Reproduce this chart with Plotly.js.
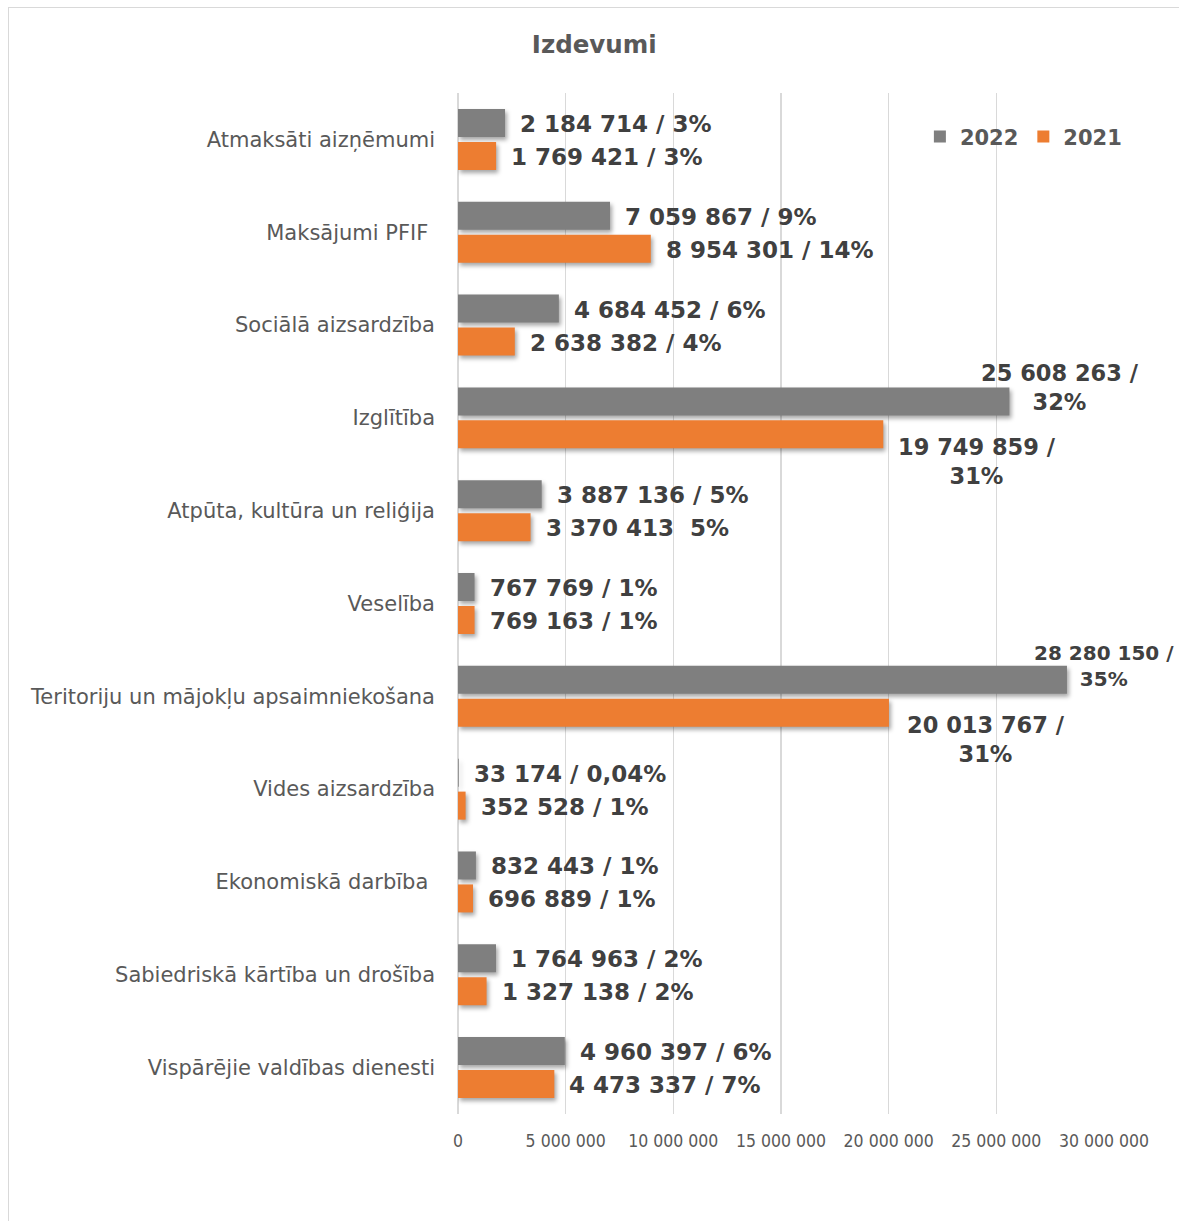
<!DOCTYPE html>
<html>
<head>
<meta charset="utf-8">
<script src="https://cdn.plot.ly/plotly-3.0.1.min.js"></script>
<style>
  html, body { margin: 0; padding: 0; background: #fff; overflow: hidden; }
  #frame { position: absolute; left: 8px; top: 7px; width: 1400px; height: 1400px;
           border: 1.5px solid #d9d9d9; pointer-events: none; }
  #chart { position: absolute; left: 0; top: 0; width: 1179px; height: 1221px; }
  #chart .bars .point path { filter: drop-shadow(2px 3px 2px rgba(0,0,0,0.35)); }
</style>
</head>
<body>
<div id="frame"></div>
<div id="chart"></div>
<script>
// ---- data (top to bottom as in the chart) ----
const categories = [
  "Atmaksāti aizņēmumi",
  "Maksājumi PFIF\u00a0",
  "Sociālā aizsardzība",
  "Izglītība",
  "Atpūta, kultūra un reliģija",
  "Veselība",
  "Teritoriju un mājokļu apsaimniekošana",
  "Vides aizsardzība",
  "Ekonomiskā darbība\u00a0",
  "Sabiedriskā kārtība un drošība",
  "Vispārējie valdības dienesti"
];
const values2022 = [2184714, 7059867, 4684452, 25608263, 3887136, 767769, 28280150, 33174, 832443, 1764963, 4960397];
const values2021 = [1769421, 8954301, 2638382, 19749859, 3370413, 769163, 20013767, 352528, 696889, 1327138, 4473337];
const pct2022 = ["3%", "9%", "6%", "32%", "5%", "1%", "35%", "0,04%", "1%", "2%", "6%"];
const pct2021 = ["3%", "14%", "4%", "31%", "5%", "1%", "31%", "1%", "1%", "2%", "7%"];
const sep2022 = [" / ", " / ", " / ", " /<br>", " / ", " / ", " /<br>", " / ", " / ", " / ", " / "];
const sep2021 = [" / ", " / ", " / ", " /<br>", "\u00a0 ", " / ", " /<br>", " / ", " / ", " / ", " / "];
const xTickVals = [0, 5000000, 10000000, 15000000, 20000000, 25000000, 30000000];

// ---- styling ----
const GRAY = "#7f7f7f", ORANGE = "#ed7d31";
const LABEL_COLOR = "#404040", TEXT_COLOR = "#595959";
const BAR_SHIFT = 16.5;   // pixel offset of each bar from the category centre
// special placement for wrapped labels: [xshift, extra yshift, font size]
const specialPos = {
  "2022-3": [-30, 15, 22.5],
  "2021-3": [13, -26, 22.5],
  "2022-6": [-35, 15, 20],
  "2021-6": [16, -26, 22.5]
};

function fmt(v) { return String(v).replace(/\B(?=(\d{3})+(?!\d))/g, " "); }

const traces = [
  { type: "bar", orientation: "h", name: "2022", y: categories, x: values2022,
    marker: { color: GRAY }, hoverinfo: "x+y" },
  { type: "bar", orientation: "h", name: "2021", y: categories, x: values2021,
    marker: { color: ORANGE }, hoverinfo: "x+y" }
];

const annotations = [];
function addLabels(vals, pcts, seps, key, dir) {
  vals.forEach((v, i) => {
    const sp = specialPos[key + "-" + i];
    annotations.push({
      x: v, y: categories[i], xref: "x", yref: "y",
      text: fmt(v) + seps[i] + pcts[i],
      showarrow: false, xanchor: "left", yanchor: "middle", align: "center",
      xshift: sp ? sp[0] : 13,
      yshift: dir * BAR_SHIFT - 1 + (sp ? sp[1] : 0),
      font: { family: "DejaVu Sans, Verdana, sans-serif", size: sp ? sp[2] : 23,
              color: LABEL_COLOR, weight: "bold" }
    });
  });
}
addLabels(values2022, pct2022, sep2022, "2022", 1);
addLabels(values2021, pct2021, sep2021, "2021", -1);

const layout = {
  width: 1179, height: 1221,
  margin: { l: 458, r: 75, t: 93, b: 107 },
  paper_bgcolor: "rgba(0,0,0,0)", plot_bgcolor: "rgba(0,0,0,0)",
  separators: ", ",
  barmode: "group", bargap: 0.29, bargroupgap: 0.15,
  title: { text: "Izdevumi", x: 0.504, xref: "container", y: 1 - 44 / 1221, yref: "container",
           yanchor: "middle", xanchor: "center",
           font: { family: "DejaVu Sans, Verdana, sans-serif", size: 24.5, color: TEXT_COLOR, weight: "bold" } },
  xaxis: {
    range: [0, 30000000], tickvals: xTickVals, tickformat: ",d",
    showgrid: true, gridcolor: "#d9d9d9", gridwidth: 1.5,
    zeroline: true, zerolinecolor: "#d9d9d9", zerolinewidth: 1.5,
    showline: false, ticks: "", ticklabelstandoff: 14,
    tickfont: { family: "DejaVu Sans Condensed, DejaVu Sans, sans-serif", size: 17.5, color: TEXT_COLOR },
    fixedrange: true
  },
  yaxis: {
    type: "category", autorange: "reversed",
    showgrid: false, zeroline: false, showline: false, ticks: "",
    ticklabelstandoff: 22,
    tickfont: { family: "DejaVu Sans, Verdana, sans-serif", size: 21, color: TEXT_COLOR },
    fixedrange: true
  },
  showlegend: true,
  legend: { orientation: "h", x: 0.715, xanchor: "left", y: 0.957, yanchor: "middle",
            bgcolor: "rgba(0,0,0,0)", itemclick: false, itemdoubleclick: false,
            font: { family: "DejaVu Sans, Verdana, sans-serif", size: 21, color: TEXT_COLOR, weight: "bold" } },
  annotations: annotations
};

Plotly.newPlot("chart", traces, layout, { displayModeBar: false, staticPlot: true });
</script>
</body>
</html>
